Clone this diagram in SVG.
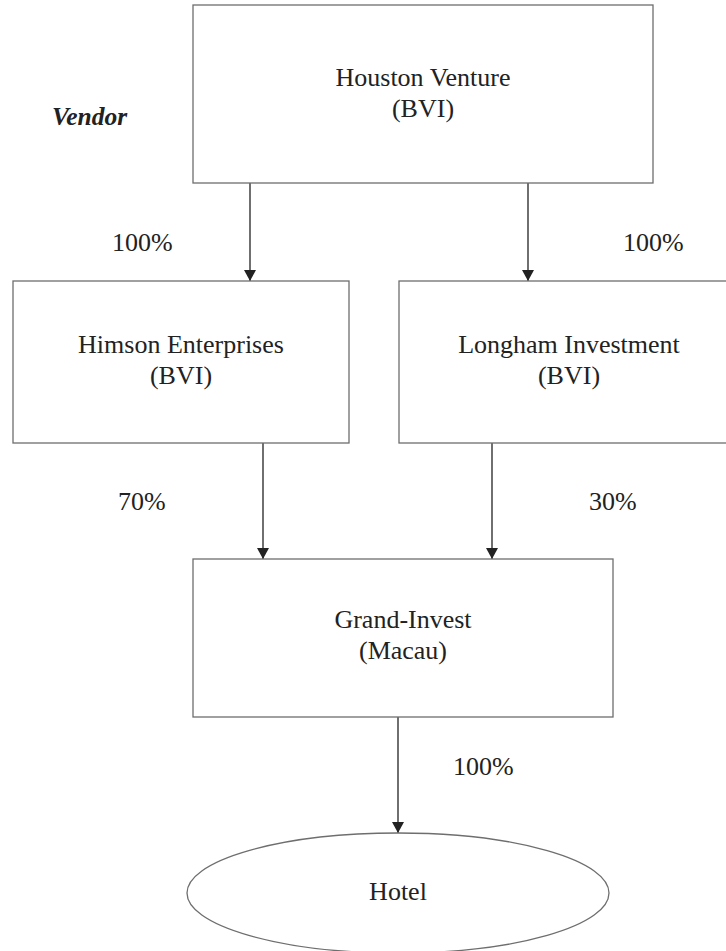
<svg xmlns="http://www.w3.org/2000/svg" width="726" height="951" viewBox="0 0 726 951">
<style>
.box{fill:#fff;stroke:#6e6e6e;stroke-width:1.3}
.t{font-family:"Liberation Serif","Times New Roman",serif;font-size:26px;fill:#222;text-anchor:middle}
.p{font-family:"Liberation Serif","Times New Roman",serif;font-size:26px;fill:#222}
.v{font-family:"Liberation Serif","Times New Roman",serif;font-size:25.5px;font-weight:bold;font-style:italic;fill:#222}
.c{stroke:#222;stroke-width:1.3;fill:none;marker-end:url(#ah)}
</style>
<defs>
<marker id="ah" markerUnits="userSpaceOnUse" markerWidth="11" markerHeight="12" refX="11" refY="6" orient="auto" viewBox="0 0 11 12">
<path d="M0,0 L11,6 L0,12 Z" fill="#222"/>
</marker>
</defs>
<rect width="726" height="951" fill="#fff"/>
<g id="connectors">
<line class="c" x1="250" y1="183" x2="250" y2="281"/>
<line class="c" x1="528" y1="183" x2="528" y2="281"/>
<line class="c" x1="263" y1="443" x2="263" y2="559"/>
<line class="c" x1="492" y1="443" x2="492" y2="559"/>
<line class="c" x1="398" y1="717" x2="398" y2="833"/>
</g>
<g id="houston">
<rect class="box" x="193" y="5" width="460" height="178"/>
<text class="t" x="423" y="86">Houston Venture</text>
<text class="t" x="423" y="117">(BVI)</text>
</g>
<g id="vendor"><text class="v" x="52" y="125">Vendor</text></g>
<g id="himson">
<rect class="box" x="13" y="281" width="336" height="162"/>
<text class="t" x="181" y="353">Himson Enterprises</text>
<text class="t" x="181" y="384">(BVI)</text>
</g>
<g id="longham">
<rect class="box" x="399" y="281" width="340" height="162"/>
<text class="t" x="569" y="353">Longham Investment</text>
<text class="t" x="569" y="384">(BVI)</text>
</g>
<g id="grand">
<rect class="box" x="193" y="559" width="420" height="158"/>
<text class="t" x="403" y="628">Grand-Invest</text>
<text class="t" x="403" y="659">(Macau)</text>
</g>
<g id="hotel">
<ellipse class="box" cx="398" cy="893" rx="211" ry="60"/>
<text class="t" x="398" y="900">Hotel</text>
</g>
<g id="labels">
<text class="p" x="112" y="251">100%</text>
<text class="p" x="623" y="251">100%</text>
<text class="p" x="118" y="510">70%</text>
<text class="p" x="589" y="510">30%</text>
<text class="p" x="453" y="775">100%</text>
</g>
</svg>
